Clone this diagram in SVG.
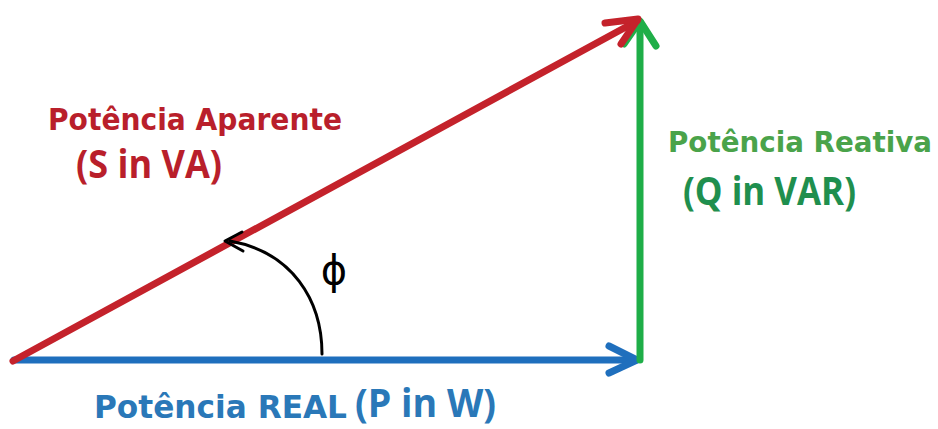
<svg xmlns="http://www.w3.org/2000/svg" width="938" height="429" viewBox="0 0 938 429">
<style>
.vec{fill:none;stroke-width:7;stroke-linecap:round;stroke-linejoin:round}
.red{stroke:#c4222b}
.blue{stroke:#1f6fbd}
.green{stroke:#1fae48}
.arc{fill:none;stroke:#000;stroke-width:3;stroke-linecap:round;stroke-linejoin:round}
.t1{font-family:"DejaVu Sans",Verdana,sans-serif;font-weight:bold}
.t2{font-family:"Open Sans","Liberation Sans",sans-serif;font-weight:bold}
</style>
<rect width="938" height="429" fill="#ffffff"/>
<g id="connectors">
<g id="real-power-vector">
<line class="vec blue" x1="14" y1="360" x2="636" y2="360"/>
<polyline class="vec blue" points="609,346 637,360 609,373"/>
</g>
<g id="reactive-power-vector">
<line class="vec green" x1="640" y1="360" x2="640" y2="22"/>
<polyline class="vec green" points="624,44 640,21 656,46"/>
</g>
<g id="apparent-power-vector">
<line class="vec red" x1="13" y1="361" x2="637" y2="21"/>
<polyline class="vec red" points="605,23 638,19 621,44"/>
</g>
<g id="angle-arc">
<path class="arc" d="M322,354 C322,300 292,252 230,241"/>
<polyline class="arc" points="242,232 225,241 243,251"/>
</g>
</g>
<g id="phi-label">
<text x="334" y="284" font-family="DejaVu Sans,sans-serif" font-size="40" text-anchor="middle" fill="#000">ϕ</text>
</g>
<g id="apparent-label" fill="#b91f2b">
<text class="t1" x="48" y="130" font-size="30" textLength="294" lengthAdjust="spacingAndGlyphs">Potência Aparente</text>
<text class="t2" x="76" y="178" font-size="40" textLength="146" lengthAdjust="spacingAndGlyphs">(S in VA)</text>
</g>
<g id="reactive-label">
<text class="t1" x="668" y="152" font-size="28" fill="#4aa34a" textLength="264" lengthAdjust="spacingAndGlyphs">Potência Reativa</text>
<text class="t2" x="683" y="205" font-size="40" fill="#1f8f4e" textLength="173" lengthAdjust="spacingAndGlyphs">(Q in VAR)</text>
</g>
<g id="real-label" fill="#2a78b8">
<text class="t1" x="94" y="418" font-size="32" textLength="253" lengthAdjust="spacingAndGlyphs">Potência REAL</text>
<text class="t2" x="355" y="417" font-size="39" textLength="141" lengthAdjust="spacingAndGlyphs">(P in W)</text>
</g>
</svg>
